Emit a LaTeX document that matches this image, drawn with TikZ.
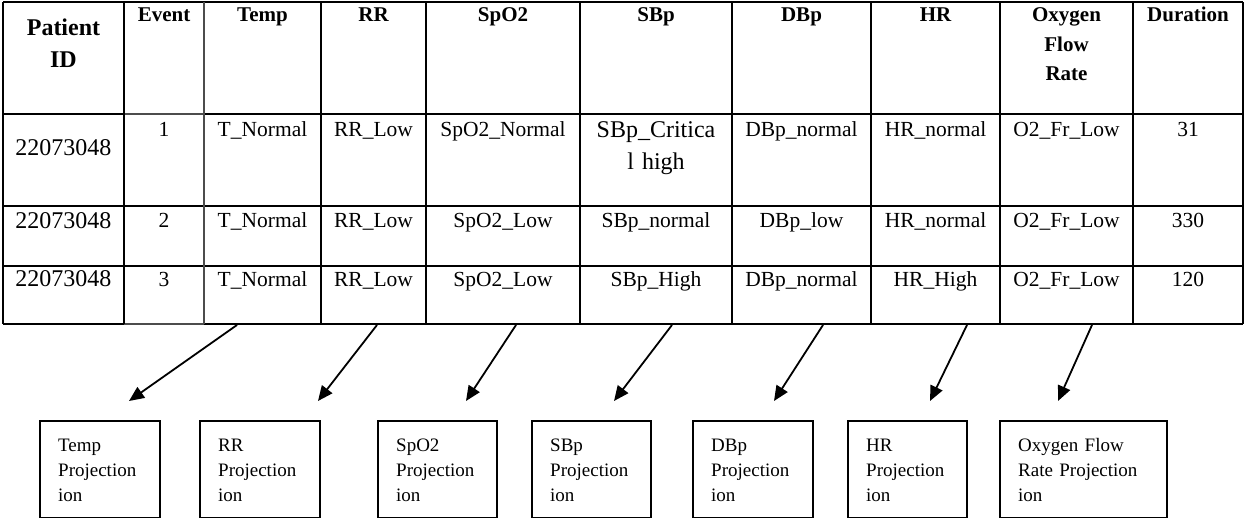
\documentclass[tikz,border=0pt]{standalone}
\usepackage{fontspec}
\setmainfont{Liberation Serif}
\usetikzlibrary{arrows.meta}
\begin{document}
\begin{tikzpicture}[x=1pt,y=-1pt,
  grid/.style={line width=2pt, black},
  thingrid/.style={line width=1.1pt, black!70},
  hdr/.style={font=\fontsize{21}{29.5}\selectfont\bfseries, anchor=base, inner sep=0pt},
  cell/.style={font=\fontsize{21.5}{32}\selectfont, anchor=base, inner sep=0pt},
  bigcell/.style={font=\fontsize{24}{32}\selectfont, anchor=base, inner sep=0pt},
  pbox/.style={draw, line width=1.6pt, minimum width=#1, minimum height=97pt, anchor=north west, inner sep=0pt},
  ptext/.style={font=\fontsize{19}{25.3}\selectfont, anchor=base west, inner sep=0pt, text width=150pt, align=left},
  proj/.style={-{Triangle[length=15pt,width=13pt]}, line width=1.8pt}
]
\useasboundingbox (0,0) rectangle (1244,518);

% table grid: the Event column carries lighter inner rules
\foreach \yy in {2,206,266}
  \draw[grid] (3,\yy) -- (1243,\yy);
\foreach \yy in {114,324}{
  \draw[grid] (3,\yy) -- (124,\yy);
  \draw[thingrid] (124,\yy) -- (204,\yy);
  \draw[grid] (204,\yy) -- (1243,\yy);
}
\foreach \xx in {3,124,321,426,580,732,871,1000,1133,1243}
  \draw[grid] (\xx,2) -- (\xx,324);
\draw[thingrid] (204,2) -- (204,324);

% header row
\node[hdr, font=\fontsize{24}{32}\selectfont\bfseries, text width=110pt, align=center] (hPid) at (63.5,36) {Patient\\ID};
\node[hdr] (hEv) at (164,22) {Event};
\node[hdr] (hT) at (262.5,22) {Temp};
\node[hdr] (hRR) at (373.5,22) {RR};
\node[hdr] (hSp) at (503,22) {SpO2};
\node[hdr] (hSB) at (656,22) {SBp};
\node[hdr] (hDB) at (801.5,22) {DBp};
\node[hdr] (hHR) at (935.5,22) {HR};
\node[hdr, text width=120pt, align=center] (hO2) at (1066.5,22) {Oxygen\\Flow\\Rate};
\node[hdr] (hDu) at (1188,22) {Duration};

% row 1
\node[bigcell] (aPid) at (63.5,156) {22073048};
\node[cell] (aEv) at (164,137) {1};
\node[cell] (aT) at (262.5,137) {T\_Normal};
\node[cell] (aRR) at (373.5,137) {RR\_Low};
\node[cell] (aSp) at (503,137) {SpO2\_Normal};
\node[bigcell, text width=150pt, align=center] (aSB) at (656,138) {SBp\_Critica\\l high};
\node[cell] (aDB) at (801.5,137) {DBp\_normal};
\node[cell] (aHR) at (935.5,137) {HR\_normal};
\node[cell] (aO2) at (1066.5,137) {O2\_Fr\_Low};
\node[cell] (aDu) at (1188,137) {31};

% row 2
\node[bigcell] (bPid) at (63.5,229) {22073048};
\node[cell] (bEv) at (164,228) {2};
\node[cell] (bT) at (262.5,228) {T\_Normal};
\node[cell] (bRR) at (373.5,228) {RR\_Low};
\node[cell] (bSp) at (503,228) {SpO2\_Low};
\node[cell] (bSB) at (656,228) {SBp\_normal};
\node[cell] (bDB) at (801.5,228) {DBp\_low};
\node[cell] (bHR) at (935.5,228) {HR\_normal};
\node[cell] (bO2) at (1066.5,228) {O2\_Fr\_Low};
\node[cell] (bDu) at (1188,228) {330};

% row 3
\node[bigcell] (cPid) at (63.5,287) {22073048};
\node[cell] (cEv) at (164,287) {3};
\node[cell] (cT) at (262.5,287) {T\_Normal};
\node[cell] (cRR) at (373.5,287) {RR\_Low};
\node[cell] (cSp) at (503,287) {SpO2\_Low};
\node[cell] (cSB) at (656,287) {SBp\_High};
\node[cell] (cDB) at (801.5,287) {DBp\_normal};
\node[cell] (cHR) at (935.5,287) {HR\_High};
\node[cell] (cO2) at (1066.5,287) {O2\_Fr\_Low};
\node[cell] (cDu) at (1188,287) {120};

% projection boxes
\node[pbox=120pt] (bxT)  at (39,420)  {};
\node[pbox=120pt] (bxRR) at (199,420) {};
\node[pbox=119pt] (bxSp) at (377,420) {};
\node[pbox=119pt] (bxSB) at (531,420) {};
\node[pbox=120pt] (bxDB) at (692,420) {};
\node[pbox=119pt] (bxHR) at (847,420) {};
\node[pbox=167pt] (bxO2) at (999,420) {};

\node[ptext] (txT)  at (58,451)   {Temp\\Projection\\ion};
\node[ptext] (txRR) at (218,451)  {RR\\Projection\\ion};
\node[ptext] (txSp) at (396,451)  {SpO2\\Projection\\ion};
\node[ptext] (txSB) at (550,451)  {SBp\\Projection\\ion};
\node[ptext] (txDB) at (711,451)  {DBp\\Projection\\ion};
\node[ptext] (txHR) at (866,451)  {HR\\Projection\\ion};
\node[ptext] (txO2) at (1018,451) {Oxygen Flow\\Rate Projection\\ion};

% arrow ends
\coordinate (s1) at (237,325);  \coordinate (e1) at (129,401);
\coordinate (s2) at (377,325);  \coordinate (e2) at (318,401);
\coordinate (s3) at (516,325);  \coordinate (e3) at (466,401);
\coordinate (s4) at (672,325);  \coordinate (e4) at (614,401);
\coordinate (s5) at (823,325);  \coordinate (e5) at (774,401);
\coordinate (s6) at (967,325);  \coordinate (e6) at (930,401);
\coordinate (s7) at (1092,325); \coordinate (e7) at (1058,401);

\foreach \i in {1,...,7}
  \draw[proj] (s\i) -- (e\i);
\end{tikzpicture}
\end{document}
